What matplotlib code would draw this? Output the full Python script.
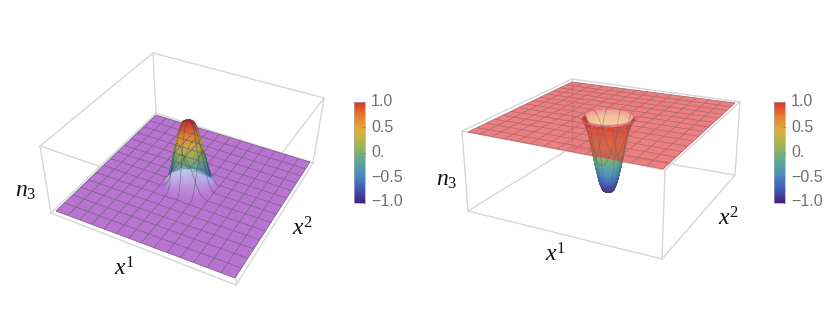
import numpy as np
import matplotlib
matplotlib.use("Agg")
import matplotlib.pyplot as plt
from matplotlib.collections import PolyCollection
from matplotlib.colors import LinearSegmentedColormap, to_rgb
from matplotlib.path import Path
from matplotlib.patches import PathPatch, Rectangle

plt.rcParams["mathtext.fontset"] = "custom"
plt.rcParams["mathtext.it"] = "Liberation Serif:italic"
plt.rcParams["mathtext.rm"] = "Liberation Serif"

# radial shape of the texture
profile_r = [0, .03, .06, .09, .12, .15, .18, .21, .24, .27, .30, .33]
profile_n3 = [1, .985, .93, .74, .44, .09, -.3, -.62, -.85, -.96, -1, -1]

tick_values = [1.0, 0.5, 0.0, -0.5, -1.0]
tick_labels = ["1.0", "0.5", "0.", "\u22120.5", "\u22121.0"]
rainbow = ["#4b1b7f", "#3f5fb8", "#4b8fc0", "#5fad8f", "#a0b84f", "#e0b03a", "#e8802e", "#e03028"]
n_cells = 14

GRAY = "#d6d6d6"
cmap = LinearSegmentedColormap.from_list("rainbow", rainbow)

def homography(quad):
    src = [(-1, -1), (1, -1), (1, 1), (-1, 1)]
    A, b = [], []
    for (u, v), (x, y) in zip(src, quad):
        A.append([u, v, 1, 0, 0, 0, -u*x, -v*x]); b.append(x)
        A.append([0, 0, 0, u, v, 1, -u*y, -v*y]); b.append(y)
    return np.append(np.linalg.solve(np.array(A, float), np.array(b, float)), 1).reshape(3, 3)

def make_proj(low, high):
    H0, H1 = homography(low), homography(high)
    def one(H, u, v):
        d = H[2, 0]*u + H[2, 1]*v + H[2, 2]
        return (H[0, 0]*u + H[0, 1]*v + H[0, 2])/d, (H[1, 0]*u + H[1, 1]*v + H[1, 2])/d
    def proj(u, v, n3):
        w = (np.asarray(n3) + 1)/2
        x0, y0 = one(H0, u, v); x1, y1 = one(H1, u, v)
        return (1-w)*x0 + w*x1, (1-w)*y0 + w*y1
    return proj

def shape(r, sign):
    return sign*np.interp(r, profile_r, profile_n3)

def draw_box(ax, bottom, top):
    for i in range(4):
        j = (i+1) % 4
        ax.plot(*zip(bottom[i], bottom[j]), color=GRAY, lw=1, zorder=1)
        ax.plot(*zip(top[i], top[j]), color=GRAY, lw=1, zorder=1)
        ax.plot(*zip(bottom[i], top[i]), color=GRAY, lw=1, zorder=1)

def surface_cells(proj, sign, color_fn, rmax, keep=None):
    radii = np.linspace(0.002, rmax, 50)
    theta = np.linspace(0, 2*np.pi, 97)
    polys, cols, depth = [], [], []
    for i in range(len(radii)-1):
        for j in range(len(theta)-1):
            r = [radii[i], radii[i+1], radii[i+1], radii[i]]
            t = [theta[j], theta[j], theta[j+1], theta[j+1]]
            rm, tm = np.mean(r), np.mean(t)
            if keep is not None and not keep(tm):
                continue
            u = np.array(r)*np.cos(t); v = np.array(r)*np.sin(t)
            n3 = shape(np.array(r), sign)
            x, y = proj(u, v, n3)
            polys.append(np.column_stack([x, y]))
            cols.append(color_fn(shape(rm, sign), tm))
            depth.append(proj(rm*np.cos(tm), rm*np.sin(tm), -sign)[1])
    order = np.argsort(depth)
    return [polys[k] for k in order], [cols[k] for k in order]

def mesh_lines(ax, proj, sign, color, bump_color, rmax):
    ticks = np.linspace(-1, 1, n_cells+1)
    s = np.linspace(-1, 1, 401)
    for t in ticks:
        for a, b in ((np.full_like(s, t), s), (s, np.full_like(s, t))):
            r = np.hypot(a, b)
            x, y = proj(a, b, shape(r, sign))
            outside = np.where(r >= rmax, 1.0, np.nan)
            inside = np.where(r <= rmax, 1.0, np.nan)
            ax.plot(x*outside, y*outside, color=color, lw=0.6, zorder=6, solid_capstyle="butt")
            ax.plot(x*inside, y*inside, color=bump_color, lw=0.6, alpha=0.42, zorder=7)

def colorbar(ax, x0, labels_x):
    y0, y1 = 102, 203
    grad = np.linspace(1, -1, 256).reshape(-1, 1)
    ax.imshow(grad, cmap=cmap, vmin=-1, vmax=1, extent=(x0, x0+11, y1, y0), aspect="auto", zorder=3)
    ax.add_patch(Rectangle((x0, y0), 11, y1-y0, fill=False, ec="#a8a8a8", lw=0.5, zorder=4))
    for val, lab in zip(tick_values, tick_labels):
        y = y1 - (val+1)/2*(y1-y0)
        ax.plot([x0+9, x0+11], [y, y], color="#808080", lw=0.5, zorder=5)
        ax.text(labels_x, min(y, 201), lab, color="#707070", fontsize=11.5,
                family="Liberation Sans", va="center", ha="left")

fig = plt.figure(figsize=(8.3, 3.09), dpi=100)
ax = fig.add_axes([0, 0, 1, 1])

# left panel, n3 = -1 almost everywhere
L_sheet = [(56, 211), (235, 278), (310, 162), (156, 115)]
L_box_b = [(51, 213), (236, 285), (313, 163), (156, 113)]
L_box_t = [(40, 146), (236, 213), (324, 98), (153, 53)]
front = -1.2
proj = make_proj(L_sheet, L_box_t)
sheet_left = np.array(to_rgb("#b972d2"))
light = np.array(to_rgb("#bfcbf0"))

def left_color(n3, t):
    facing = max(0.0, np.cos(t-front))
    thr = -0.78 + 0.55*facing
    base = np.array(cmap((n3+1)/2)[:3])*(0.82+0.16*facing)
    m = np.clip((thr-n3)/0.08 + 1, 0, 1)
    f = np.clip((thr-n3)/(thr+1), 0, 1)
    side = np.clip(np.sin(t-front), 0, 1)
    lt = light*(1-0.35*side) + np.array(to_rgb("#9c96f0"))*0.35*side
    lt = lt*(1-f) + sheet_left*f
    return tuple(base*(1-m) + lt*m)

draw_box(ax, L_box_b, L_box_t)
ax.add_patch(PathPatch(Path(L_sheet + [L_sheet[0]], closed=True), fc="#b265cd", ec="none", alpha=0.9, zorder=2))
polys, cols = surface_cells(proj, 1, left_color, 0.3)
ax.add_collection(PolyCollection(polys, facecolors=cols, edgecolors=cols, linewidths=0.3, zorder=5))
mesh_lines(ax, proj, 1, "#80608f", "#33413f", 0.28)

# right panel, n3 = +1 almost everywhere
R_sheet = [(468, 132), (663, 169), (735, 103), (572, 82)]
R_low = [(468, 211), (662, 259), (735, 175), (572, 147)]
R_box_t = [(462, 131), (665, 170), (740, 102), (572, 79)]
proj = make_proj(R_low, R_sheet)

def right_back(n3, t):
    pale = np.array(cmap(np.clip(0.72 + 0.28*(n3-0.6)/0.4, 0, 1))[:3])
    return tuple(pale*0.5 + 0.5)

def right_front(n3, t):
    return tuple(np.array(cmap((n3+1)/2)[:3])*(0.82+0.18*np.cos(t-front)))

draw_box(ax, R_low, R_box_t)
th = np.linspace(2*np.pi, 0, 121)
hx, hy = proj(0.25*np.cos(th), 0.25*np.sin(th), np.ones_like(th))
hole = Path(np.column_stack([hx, hy]), closed=False)

polys, cols = surface_cells(proj, -1, right_back, 0.3, keep=lambda t: np.cos(t-front) < 0.3)
back = PolyCollection(polys, facecolors=cols, edgecolors=cols, linewidths=0.3, zorder=2.4)
ax.add_collection(back)
back.set_clip_path(hole, ax.transData)

polys, cols = surface_cells(proj, -1, right_front, 0.265, keep=lambda t: np.cos(t-front) >= -0.3)
ax.add_collection(PolyCollection(polys, facecolors=cols, edgecolors=cols, linewidths=0.3, zorder=2.5))

verts = R_sheet + [R_sheet[0]] + list(zip(hx, hy))
codes = [Path.MOVETO] + [Path.LINETO]*3 + [Path.CLOSEPOLY] + [Path.MOVETO] + [Path.LINETO]*(len(th)-1)
ax.add_patch(PathPatch(Path(verts, codes), fc="#e23a3a", ec="none", alpha=0.65, zorder=4))
mesh_lines(ax, proj, -1, "#b56a6e", "#6a5a5a", 0.25)

colorbar(ax, 354, 371)
colorbar(ax, 774, 791)

for x, y, s in [(26, 190, "$n_3$"), (124, 268, "$x^1$"), (303, 228, "$x^2$"),
                (447, 179, "$n_3$"), (555, 255, "$x^1$"), (729, 219, "$x^2$")]:
    ax.text(x, y, s, fontsize=17, color="#111111", ha="center", va="center")

ax.set_xlim(0, 830)
ax.set_ylim(309, 0)
ax.axis("off")
fig.savefig("out.png", dpi=100)
